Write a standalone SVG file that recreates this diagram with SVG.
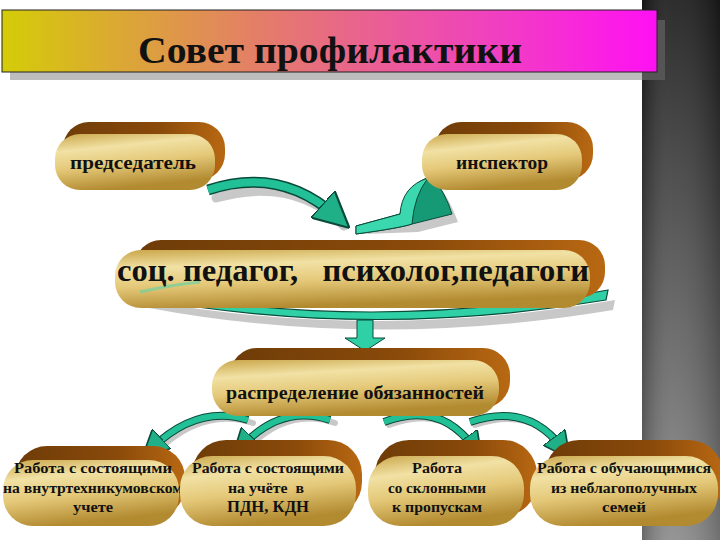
<svg xmlns="http://www.w3.org/2000/svg" width="720" height="540" viewBox="0 0 720 540">
<defs>
<linearGradient id="side" x1="0" y1="0" x2="0" y2="1"><stop offset="0" stop-color="#1b1b1b"/><stop offset="0.5" stop-color="#555"/><stop offset="1" stop-color="#8c8c8c"/></linearGradient>
<linearGradient id="sideH" x1="0" y1="0" x2="1" y2="0"><stop offset="0" stop-color="#000" stop-opacity="0.25"/><stop offset="0.4" stop-color="#fff" stop-opacity="0.08"/><stop offset="1" stop-color="#000" stop-opacity="0.2"/></linearGradient>
<linearGradient id="title" x1="0" y1="0" x2="1" y2="0"><stop offset="0" stop-color="#d4cc08"/><stop offset="0.4" stop-color="#e47c6a"/><stop offset="0.75" stop-color="#f040c0"/><stop offset="1" stop-color="#ff10f4"/></linearGradient>
<linearGradient id="brown" x1="0" y1="0" x2="1" y2="0"><stop offset="0" stop-color="#6e3c08"/><stop offset="0.6" stop-color="#8a4a0a"/><stop offset="1" stop-color="#b86812"/></linearGradient>
<linearGradient id="gold" x1="0" y1="0" x2="0.3" y2="1"><stop offset="0" stop-color="#c9a548"/><stop offset="0.3" stop-color="#f1e1a4"/><stop offset="0.6" stop-color="#e4c878"/><stop offset="1" stop-color="#b28a30"/></linearGradient>
<marker id="ah" viewBox="0 0 10 10" refX="5" refY="5" markerWidth="4.5" markerHeight="4.5" orient="auto" markerUnits="strokeWidth"><path d="M0,0 L10,5 L0,10 Z" fill="#1fb088" stroke="#0a4a3a" stroke-width="0.6"/></marker>
</defs>
<style>
.back{fill:url(#brown)}
.front{fill:url(#gold)}
.t{font-family:"Liberation Serif","Times New Roman",serif;font-weight:bold;fill:#111;text-anchor:middle}
.sh{fill:none;stroke:#c8c8c8;stroke-linecap:round}
.ol{fill:none;stroke:#0a4a3a;stroke-linecap:butt}
.tl{fill:none;stroke:#22c096;stroke-linecap:butt}
</style>
<rect width="720" height="540" fill="#fff"/>
<rect x="642" y="0" width="78" height="540" fill="url(#side)"/>
<rect x="642" y="0" width="78" height="540" fill="url(#sideH)"/>

<g id="title-bar">
<rect x="10" y="20" width="655" height="60" fill="#bdbdbd"/>
<rect x="642" y="20" width="23" height="60" fill="#555"/>
<rect x="2" y="10" width="655" height="62" fill="url(#title)" stroke="#222" stroke-width="1"/>
<text x="330" y="63" class="t" font-size="37" textLength="384" lengthAdjust="spacingAndGlyphs">Совет профилактики</text>
</g>

<g id="connectors">
<path d="M212,194 Q290,172 340,222" class="sh" stroke-width="9" transform="translate(4,4)"/>
<path d="M208,190 Q280,166 336,216" class="ol" stroke-width="11"/>
<path d="M208,190 Q280,166 336,216" class="tl" stroke-width="8" marker-end="url(#ah)"/>
<path d="M360,230 L404,220 Q410,186 434,180 Q446,196 454,218 L414,228 Z" fill="#c8c8c8" transform="translate(4,4)"/>
<path d="M356,226 L400,214 Q406,184 432,176 Q446,194 452,214 L412,224 Q400,228 356,234 Z" fill="#169a76" stroke="#0a4a3a" stroke-width="1"/>
<path d="M356,226 L400,214 Q402,186 428,178 Q414,196 412,224 Q400,228 356,234 Z" fill="#3bd8b0" stroke="#0a4a3a" stroke-width="1"/>
<path d="M140,296 Q370,338 612,296 L610,306 Q370,346 146,304 Z" fill="#c8c8c8" transform="translate(3,4)"/>
<path d="M138,290 Q370,334 608,290 L606,300 Q370,340 142,298 Z" fill="#2fd0a6" stroke="#0a4a3a" stroke-width="1.2"/>
<path d="M357,320 L373,320 L373,338 L385,338 L365,351 L345,338 L357,338 Z" fill="#2fd0a6" stroke="#0a4a3a" stroke-width="1"/>
<path d="M248,420 Q198,404 152,448" class="sh" stroke-width="6" transform="translate(5,3)"/>
<path d="M248,420 Q198,404 152,448" class="ol" stroke-width="8"/>
<path d="M248,420 Q198,404 152,448" class="tl" stroke-width="6" marker-end="url(#ah)"/>
<path d="M330,420 Q282,404 242,446" class="sh" stroke-width="6" transform="translate(5,3)"/>
<path d="M330,420 Q282,404 242,446" class="ol" stroke-width="8"/>
<path d="M330,420 Q282,404 242,446" class="tl" stroke-width="6" marker-end="url(#ah)"/>
<path d="M384,422 Q440,400 474,448" class="sh" stroke-width="6" transform="translate(5,3)"/>
<path d="M384,422 Q440,400 474,448" class="ol" stroke-width="8"/>
<path d="M384,422 Q440,400 474,448" class="tl" stroke-width="6" marker-end="url(#ah)"/>
<path d="M470,422 Q528,402 562,448" class="sh" stroke-width="6" transform="translate(5,3)"/>
<path d="M470,422 Q528,402 562,448" class="ol" stroke-width="8"/>
<path d="M470,422 Q528,402 562,448" class="tl" stroke-width="6" marker-end="url(#ah)"/>
</g>

<g id="node-predsedatel">
<rect x="63" y="122" width="162" height="58" rx="26" class="back"/>
<rect x="55" y="134" width="160" height="56" rx="25" class="front"/>
<text x="133" y="169" class="t" font-size="18" textLength="126" lengthAdjust="spacingAndGlyphs">председатель</text>
</g>

<g id="node-inspektor">
<rect x="435" y="122" width="158" height="58" rx="26" class="back"/>
<rect x="422" y="134" width="160" height="56" rx="25" class="front"/>
<text x="502" y="169" class="t" font-size="18" textLength="92" lengthAdjust="spacingAndGlyphs">инспектор</text>
</g>

<g id="node-main">
<rect x="135" y="240" width="470" height="58" rx="26" class="back"/>
<rect x="115" y="250" width="475" height="58" rx="26" class="front"/>
<path d="M140,292 Q170,285 200,282" fill="none" stroke="#6fd0a0" stroke-width="3" opacity="0.7"/>
<text x="353" y="281" class="t" font-size="31" textLength="472" lengthAdjust="spacingAndGlyphs" xml:space="preserve">соц. педагог,   психолог,педагоги</text>
</g>

<g id="node-raspredelenie">
<rect x="230" y="348" width="280" height="60" rx="27" class="back"/>
<rect x="212" y="360" width="287" height="56" rx="26" class="front"/>
<text x="355" y="399" class="t" font-size="18" textLength="258" lengthAdjust="spacingAndGlyphs">распределение обязанностей</text>
</g>

<g id="node-b1">
<rect x="15" y="446" width="170" height="72" rx="32" class="back"/>
<rect x="3" y="460" width="176" height="66" rx="30" class="front"/>
<text x="93" y="473" class="t" font-size="14.5" textLength="158" lengthAdjust="spacingAndGlyphs">Работа с состоящими</text>
<text x="93" y="493" class="t" font-size="14.5" textLength="180" lengthAdjust="spacingAndGlyphs">на внутртехникумовском</text>
<text x="93" y="512" class="t" font-size="14.5" textLength="40" lengthAdjust="spacingAndGlyphs">учете</text>
</g>

<g id="node-b2">
<rect x="192" y="440" width="170" height="76" rx="34" class="back"/>
<rect x="180" y="456" width="176" height="70" rx="32" class="front"/>
<text x="268" y="473" class="t" font-size="14.5" textLength="152" lengthAdjust="spacingAndGlyphs">Работа с состоящими</text>
<text x="266" y="493" class="t" font-size="14.5" xml:space="preserve" textLength="76" lengthAdjust="spacingAndGlyphs">на учёте  в</text>
<text x="268" y="512" class="t" font-size="16" textLength="82" lengthAdjust="spacingAndGlyphs">ПДН, КДН</text>
</g>

<g id="node-b3">
<rect x="375" y="440" width="162" height="76" rx="34" class="back"/>
<rect x="368" y="456" width="156" height="70" rx="32" class="front"/>
<text x="437" y="473" class="t" font-size="14.5" textLength="50" lengthAdjust="spacingAndGlyphs">Работа</text>
<text x="437" y="493" class="t" font-size="14.5" textLength="98" lengthAdjust="spacingAndGlyphs">со склонными</text>
<text x="437" y="512" class="t" font-size="14.5" textLength="90" lengthAdjust="spacingAndGlyphs">к пропускам</text>
</g>

<g id="node-b4">
<rect x="545" y="440" width="178" height="76" rx="34" class="back"/>
<rect x="530" y="456" width="188" height="70" rx="32" class="front"/>
<text x="624" y="473" class="t" font-size="14.5" textLength="174" lengthAdjust="spacingAndGlyphs">Работа с обучающимися</text>
<text x="624" y="493" class="t" font-size="14.5" textLength="146" lengthAdjust="spacingAndGlyphs">из неблагополучных</text>
<text x="624" y="512" class="t" font-size="14.5" textLength="44" lengthAdjust="spacingAndGlyphs">семей</text>
</g>
</svg>
